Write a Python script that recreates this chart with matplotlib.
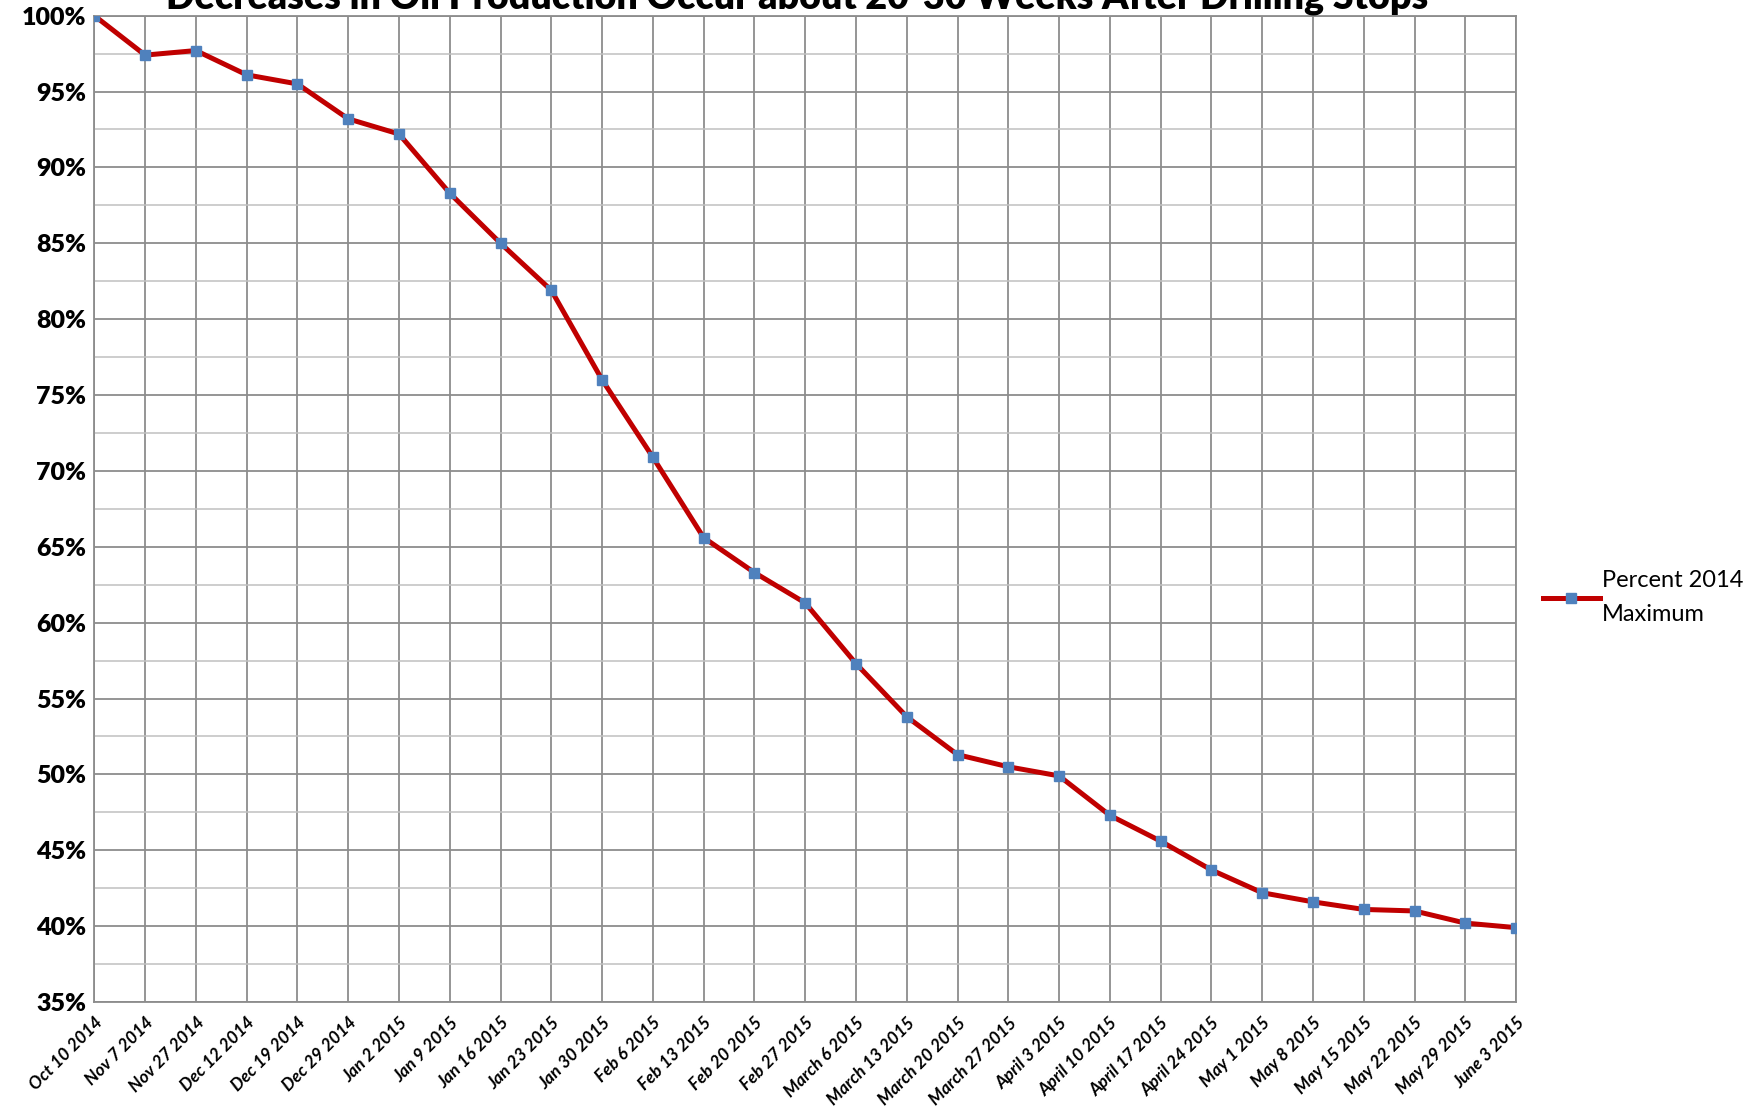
"""Oil production decline chart"""
import matplotlib
matplotlib.use("Agg")
import matplotlib.pyplot as plt
from matplotlib.ticker import MultipleLocator, FuncFormatter

plt.rcParams['font.family'] = ['Lato', 'DejaVu Sans']

# week labels along the x axis
dates = ['Oct 10 2014', 'Nov 7 2014', 'Nov 27 2014', 'Dec 12 2014', 'Dec 19 2014',
         'Dec 29 2014', 'Jan 2 2015', 'Jan 9 2015', 'Jan 16 2015', 'Jan 23 2015',
         'Jan 30 2015', 'Feb 6 2015', 'Feb 13 2015', 'Feb 20 2015', 'Feb 27 2015',
         'March 6 2015', 'March 13 2015', 'March 20 2015', 'March 27 2015',
         'April 3 2015', 'April 10 2015', 'April 17 2015', 'April 24 2015',
         'May 1 2015', 'May 8 2015', 'May 15 2015', 'May 22 2015', 'May 29 2015',
         'June 3 2015']
# percent of 2014 maximum
percent_of_max = [100.0, 97.4, 97.7, 96.1, 95.5, 93.2, 92.2, 88.3, 85.0, 81.9,
                  76.0, 70.9, 65.6, 63.3, 61.3, 57.3, 53.8, 51.3, 50.5, 49.9,
                  47.3, 45.6, 43.7, 42.2, 41.6, 41.1, 41.0, 40.2, 39.9]
series_name = 'Percent 2014\nMaximum'
title = 'Decreases in Oil Production Occur about 20-30 Weeks After Drilling Stops'

fig = plt.figure(figsize=(17.6, 11.1), dpi=100)
ax = fig.add_axes([0.0536, 0.0973, 0.8078, 0.8886])

x = range(len(dates))
ax.plot(x, percent_of_max, color='#C00000', linewidth=3.6, marker='s',
        markersize=7, markerfacecolor='#4F81BD', markeredgecolor='#4F81BD',
        label=series_name, zorder=3)

ax.set_xlim(0, len(dates) - 1)
ax.set_ylim(35, 100)
ax.yaxis.set_major_locator(MultipleLocator(5))
ax.yaxis.set_minor_locator(MultipleLocator(2.5))
ax.yaxis.set_major_formatter(FuncFormatter(lambda v, p: f'{v:.0f}%'))
ax.set_xticks(list(x))
ax.set_xticklabels(dates, rotation=45, ha='right', rotation_mode='anchor',
                   fontsize=12.5, fontweight='bold', fontstyle='italic')
for lab in ax.get_yticklabels():
    lab.set_fontsize(18)
    lab.set_fontweight('heavy')

ax.grid(which='major', axis='both', color='#8c8c8c', linewidth=1.3)
ax.grid(which='minor', axis='y', color='#c0c0c0', linewidth=1.1)
ax.set_axisbelow(True)
ax.tick_params(which='both', length=0, pad=6)
ax.tick_params(axis='x', pad=9)
for side in ['top', 'right', 'left', 'bottom']:
    ax.spines[side].set_color('#8c8c8c')
    ax.spines[side].set_linewidth(1.3)

ax.legend(loc='center left', bbox_to_anchor=(1.004, 0.41), frameon=False,
          fontsize=17, handlelength=2.4, handletextpad=0.1)
for t in ax.get_legend().get_texts():
    t.set_linespacing(1.75)

# title sits partly above the top edge, as in the source image
fig.text(0.453, 0.9925, title, ha='center', va='baseline', fontsize=27,
         fontweight='heavy')

fig.savefig('out.png', dpi=100)
